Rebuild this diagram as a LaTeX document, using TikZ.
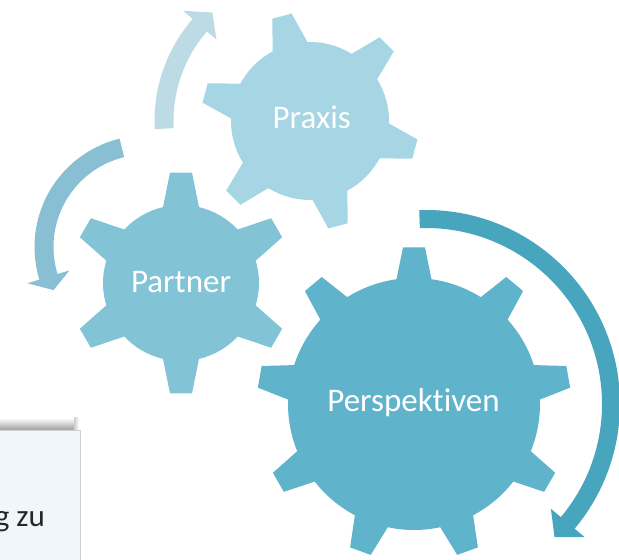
\documentclass[tikz,border=0pt]{standalone}
\usepackage{fontspec}
\setmainfont{Carlito}[RawFeature={-liga;-clig}]
\definecolor{praxc}{HTML}{A6D5E3}
\definecolor{partc}{HTML}{82C4D6}
\definecolor{persc}{HTML}{5FB4CB}
\definecolor{lightc}{HTML}{BDDBE5}
\definecolor{medc}{HTML}{88BFD3}
\definecolor{darkc}{HTML}{47A5BE}
\definecolor{boxc}{HTML}{F0F7FA}
\newcommand\drawgear[8]{%
  \begin{scope}[shift={(#1)}]
    \pgfmathsetmacro\gbb{asin(#6/#2)}
    \pgfmathsetmacro\gbt{asin(#7/#3)}
    \pgfmathsetmacro\gst{360/#4}
    \fill[#8] ({#5-\gbb}:#2pt)
      \foreach \k in {1,...,#4} {
        -- ({#5+(\k-1)*\gst-\gbt}:#3pt)
        -- ({#5+(\k-1)*\gst+\gbt}:#3pt)
        -- ({#5+(\k-1)*\gst+\gbb}:#2pt)
        arc[start angle={#5+(\k-1)*\gst+\gbb}, end angle={#5+\k*\gst-\gbb}, radius=#2pt]
      } -- cycle;
  \end{scope}}
\newcommand\circarrow[8]{%
  \begin{scope}[shift={(#1)}]
    \pgfmathsetmacro\arO{#2+#3}
    \pgfmathsetmacro\arI{#2-#3}
    \pgfmathsetmacro\arHo{#2+#6}
    \pgfmathsetmacro\arHi{#2-#6}
    \fill[#8] (#4:\arO pt) arc[start angle=#4, end angle=#5, radius=\arO pt]
      -- (#5:\arHo pt) -- (#7:#2pt) -- (#5:\arHi pt) -- (#5:\arI pt)
      arc[start angle=#5, end angle=#4, radius=\arI pt] -- cycle;
  \end{scope}}
\begin{document}
\begin{tikzpicture}[x=1pt,y=1pt,
  lbl/.style={text=white, font=\fontsize{33}{40}\selectfont, inner sep=0pt},
  boxtext/.style={text=black!85, font=\fontsize{31}{38}\selectfont, inner sep=0pt}]
\clip (0,0) rectangle (619,560);
\useasboundingbox (0,0) rectangle (619,560);
% text box at bottom left
\shade[top color=white, bottom color=black!38] (0,130) rectangle (74,142);
\shade[left color=black!20, right color=white] (74,130) rectangle (79,142);
\draw[draw=black!18, fill=boxc] (-5,-5) rectangle (80,130);
\node[boxtext, anchor=base east] (gzu) at (45,33.3) {g zu};
% centres
\coordinate (cprax) at (310,439);
\coordinate (cpart) at (181,277);
\coordinate (cpers) at (414,156);
\coordinate (amed) at (146,313);
\coordinate (adark) at (426,156);
% arrows
\circarrow{cprax}{146}{9.5}{183}{139}{22}{132}{lightc}
\circarrow{amed}{102}{9.5}{103.7}{197}{22}{205}{medc}
\circarrow{adark}{185}{9}{92}{-40}{22}{-46}{darkc}
% gears
\drawgear{cprax}{79}{109}{6}{-15}{18}{10}{praxc}
\drawgear{cpart}{78}{111}{6}{30}{18}{11}{partc}
\drawgear{cpers}{126}{157}{9}{90}{17.5}{11}{persc}
% labels
\node[lbl, anchor=base] (tprax) at (311.7,431.7) {Praxis};
\node[lbl, anchor=base] (tpart) at (181,267) {Partner};
\node[lbl, anchor=base] (tpers) at (413.5,148.3) {Perspektiven};
\end{tikzpicture}
\end{document}
